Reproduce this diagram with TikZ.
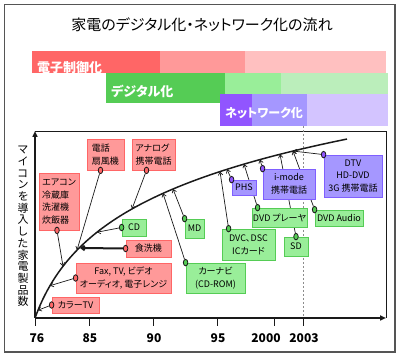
\documentclass[tikz,border=0pt]{standalone}
\usepackage{fontspec}
\setmainfont{Noto Sans CJK JP}[RawFeature={+palt}]
\usepackage{tikz}
\usetikzlibrary{arrows.meta, positioning, shapes.geometric}
\pgfdeclarelayer{behind}
\pgfsetlayers{behind,main}
\definecolor{credA}{HTML}{FF6666}
\definecolor{credB}{HTML}{FF9999}
\definecolor{credC}{HTML}{FFC0C0}
\definecolor{cgrnA}{HTML}{55CC55}
\definecolor{cgrnB}{HTML}{99EE99}
\definecolor{cgrnC}{HTML}{BBEEBB}
\definecolor{cpurA}{HTML}{9155FF}
\definecolor{cpurB}{HTML}{A597FF}
\definecolor{cpurC}{HTML}{D3C4FF}
\definecolor{cpurD}{HTML}{7F5FFF}
\definecolor{cframe}{HTML}{555555}
\definecolor{cink}{HTML}{1A1A1A}

\begin{document}
\begin{tikzpicture}[
  x=1pt, y=-1pt,
  declare function={grow(\t)=318-68.8*ln(1+(\t-35)/25);},
  bartext/.style={text=white, font=\fontsize{13}{13}\selectfont\bfseries,
    inner sep=0pt, anchor=west},
  callbox/.style={rectangle, draw=#1, line width=0.8pt, inner sep=1pt,
    align=center, font=\fontsize{9}{12.8}\selectfont},
  callred/.style={callbox=credA, fill=credB},
  callgrn/.style={callbox=cgrnA, fill=cgrnB},
  callpur/.style={callbox=cpurD, fill=cpurB},
  dot/.style={ellipse, draw=cink, fill=#1, line width=0.8pt,
    minimum width=4.5pt, minimum height=6.5pt, inner sep=0pt},
  pointer/.style={-{Straight Barb[length=3pt, width=4.5pt]}, draw=cink, line width=0.7pt},
  axis/.style={-{Triangle[length=6pt, width=5pt]}, draw=cink, line width=1.5pt},
  tick/.style={draw=cink, line width=0.8pt},
  yearlab/.style={font=\fontsize{12}{12}\selectfont\bfseries, inner sep=0pt}
]
\useasboundingbox (0,0) rectangle (400,358);
\draw[cframe, line width=1.3pt] (4.5,4.5) rectangle (395,352);

% ============================================================
% Title and the three era bars
\node[font=\fontsize{15}{15}\selectfont] (title) at (202,25)
  {家電のデジタル化・ネットワーク化の流れ};

\foreach \xa/\xb/\c in {32/160/credA, 160/245/credB, 245/386/credC}
  \fill[\c] (\xa,51) rectangle (\xb,73);
\node[bartext] (era-ctrl) at (37,68) {電子制御化};

\foreach \xa/\xb/\c in {106/225/cgrnA, 225/281/cgrnB, 281/388/cgrnC}
  \fill[\c] (\xa,73) rectangle (\xb,103);
\node[bartext] (era-dig) at (111,91) {デジタル化};

\foreach \xa/\xb/\c in {220/252/cpurA, 252/307/cpurB, 307/388/cpurC}
  \fill[\c] (\xa,94) rectangle (\xb,126);
\node[bartext, font=\fontsize{12}{12}\selectfont\bfseries] (era-net) at (225,113) {ネットワーク化};

% ============================================================
% Chart frame, axes and years
\coordinate (o) at (35,318);
\coordinate (ytop) at (35,131);
\coordinate (xend) at (386,318);
\coordinate (tr) at (386,131);
\draw[cink, line width=0.8pt] (ytop) -- (tr) -- (xend);
\draw[axis] (o) -- (ytop);
\draw[axis] (o) -- (xend);
\draw[black!45, line width=0.8pt, dash pattern=on 2pt off 2pt] (303,126) -- (303,318);

\foreach \x/\lx/\lab in {35/37/76, 89/90/85, 153/154/90, 217/218/95, 274/266/2000, 303/304/2003} {
  \draw[tick] (\x,318) -- (\x,326);
  \node[yearlab] (yr-\lab) at (\lx,338) {\lab};
}

\node[font=\fontsize{11}{11.7}\selectfont, align=center, inner sep=0pt, anchor=north]
  (ylab) at (23,146) {マ\\イ\\コ\\ン\\を\\導\\入\\し\\た\\家\\電\\製\\品\\数};

% Growth curve
\draw[cink, line width=1.5pt] plot[domain=35:347, samples=80, smooth] (\x,{grow(\x)});

% ============================================================
% Callouts: electronic control
\node[callred, align=left, minimum width=37pt, minimum height=31pt] (dw) at (105.5,154.5) {電話\\扇風機};
\node[callred, align=left, minimum width=43pt, minimum height=31pt] (an) at (153.5,154.5) {アナログ\\携帯電話};
\node[callred, align=left, minimum width=40pt, minimum height=57pt] (ac) at (59,201.5) {エアコン\\冷蔵庫\\洗濯機\\炊飯器};
\node[callred, minimum width=45pt, minimum height=17pt] (sh) at (148.5,248.5) {食洗機};
\node[callred, minimum width=95pt, minimum height=30pt] (fax) at (123.5,278) {Fax, TV, ビデオ\\オーディオ, 電子レンジ};
\node[callred, minimum width=47pt, minimum height=16pt] (tv) at (75.5,305) {カラーTV};

% Callouts: digital
\node[callgrn, minimum width=24pt, minimum height=17pt] (cd) at (134,227.5) {CD};
\node[callgrn, minimum width=19pt, minimum height=19pt] (md) at (194.5,228.5) {MD};
\node[callgrn, minimum width=59pt, minimum height=30pt] (nav) at (215.5,278) {カーナビ\\(CD-ROM)};
\node[callgrn, minimum width=53pt, minimum height=31pt] (dvc) at (248.5,244.5) {DVC、DSC\\ICカード};
\node[callgrn, minimum width=55pt, minimum height=19pt] (dvdp) at (279.5,217.5) {DVD プレーヤ};
\node[callgrn, minimum width=48pt, minimum height=16pt] (dvda) at (339,218) {DVD Audio};
\node[callgrn, minimum width=24pt, minimum height=19pt] (sd) at (296,246.5) {SD};

% Callouts: network
\node[callpur, minimum width=24pt, minimum height=15pt] (phs) at (244,187.5) {PHS};
\node[callpur, minimum width=52pt, minimum height=30pt] (imode) at (289,184) {i-mode\\携帯電話};
\node[callpur, minimum width=58pt, minimum height=42pt] (dtv) at (353,176) {DTV\\HD-DVD\\3G 携帯電話};

% Pins on the callouts
\node[dot=credA] (p-dw) at ([xshift=-5pt]dw.south) {};
\node[dot=credA] (p-an) at ([xshift=-7pt]an.south) {};
\node[dot=credA] (p-ac) at ([xshift=-2pt]ac.south) {};
\node[dot=credA] (p-sh) at (sh.west) {};
\node[dot=credA] (p-fax) at (fax.west) {};
\node[dot=credA] (p-tv) at (tv.west) {};
\node[dot=cgrnA] (p-cd) at (cd.west) {};
\node[dot=cgrnA] (p-md) at (md.north west) {};
\node[dot=cgrnA] (p-nav) at (nav.north west) {};
\node[dot=cgrnA] (p-dvc) at ([xshift=7pt]dvc.north west) {};
\node[dot=cgrnA] (p-dvdp) at ([xshift=6pt]dvdp.north west) {};
\node[dot=cgrnA] (p-dvda) at (dvda.north west) {};
\node[dot=cgrnA] (p-sd) at (sd.north) {};
\node[dot=cpurA] (p-phs) at (phs.north west) {};
\node[dot=cpurA] (p-imode) at (imode.north west) {};
\node[dot=cpurA] (p-dtv) at (dtv.north west) {};

% Points on the curve
\foreach \n/\t in {tv/38, fax/50, ac/63, dw/77, cd/97, an/132, nav/163, md/173,
                   dvc/220, phs/227, dvdp/244, imode/260, sd/280, dtv/293}
  \coordinate (c-\n) at (\t,{grow(\t)});
\coordinate (c-sh) at (80,248);

\begin{pgfonlayer}{behind}
  \foreach \n in {tv, fax, ac, dw, cd, an, nav, md, dvc, phs, dvdp, imode, sd, dtv}
    \draw[pointer] (p-\n) -- (c-\n);
  \draw[pointer] (p-dvda) -- (c-dtv);
  \draw[pointer, line width=2pt] (p-sh) -- (c-sh);
\end{pgfonlayer}

\end{tikzpicture}
\end{document}
